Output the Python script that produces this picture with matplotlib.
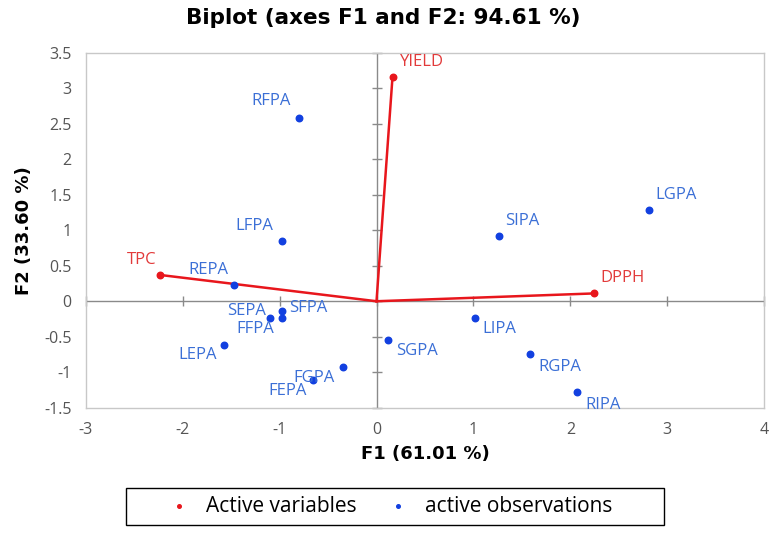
import matplotlib.pyplot as plt
from matplotlib.patches import Rectangle

plt.rcParams['font.family'] = ['Open Sans', 'DejaVu Sans']

# variables (F1, F2)
var_names = ['YIELD', 'TPC', 'DPPH']
var_f1 = [0.165, -2.23, 2.24]
var_f2 = [3.16, 0.37, 0.11]

# observations (F1, F2)
obs_names = ['RFPA', 'LFPA', 'REPA', 'LGPA', 'SIPA', 'LIPA', 'SGPA', 'RGPA',
             'RIPA', 'FGPA', 'FEPA', 'LEPA', 'SEPA', 'FFPA', 'SFPA']
obs_f1 = [-0.80, -0.98, -1.47, 2.81, 1.26, 1.02, 0.12, 1.58,
          2.07, -0.35, -0.66, -1.57, -1.10, -0.97, -0.97]
obs_f2 = [2.58, 0.85, 0.23, 1.28, 0.92, -0.23, -0.54, -0.75,
          -1.28, -0.92, -1.11, -0.62, -0.23, -0.23, -0.14]

xticks = [-3, -2, -1, 0, 1, 2, 3, 4]
yticks = [-1.5, -1, -0.5, 0, 0.5, 1, 1.5, 2, 2.5, 3, 3.5]

# label placement: (dx, dy) in points, horizontal alignment
var_pos = {'YIELD': (5, 11, 'left'), 'TPC': (-3, 11, 'right'), 'DPPH': (5, 11, 'left')}
obs_pos = {
    'RFPA': (-6, 12, 'right'), 'LFPA': (-6, 11, 'right'), 'REPA': (-4, 11, 'right'),
    'LGPA': (5, 11, 'left'), 'SIPA': (5, 11, 'left'), 'LIPA': (5, -8, 'left'),
    'SGPA': (6, -8, 'left'), 'RGPA': (6, -9, 'left'), 'RIPA': (6, -9, 'left'),
    'FGPA': (-6, -8, 'right'), 'FEPA': (-4, -8, 'right'), 'LEPA': (-5, -7, 'right'),
    'SEPA': (-3, 5, 'right'), 'FFPA': (-6, -8, 'right'), 'SFPA': (5, 2, 'left'),
}

red = '#e8161c'
blue = '#1240e0'
lblue = '#3b6fd6'
lred = '#e23a3a'
tick_col = '#555555'

fig = plt.figure(figsize=(7.72, 5.33), dpi=100)
ax = fig.add_axes([0.111, 0.235, 0.879, 0.666])

ax.set_xlim(-3, 4)
ax.set_ylim(-1.5, 3.5)
ax.set_xticks(xticks)
ax.set_yticks(yticks)
ax.set_xticklabels([str(v) for v in xticks])
ax.set_yticklabels([('%g' % v) for v in yticks])
ax.tick_params(length=0, labelsize=11.5, colors=tick_col)
ax.tick_params(axis='y', pad=10)
ax.tick_params(axis='x', pad=10)
for s in ax.spines.values():
    s.set_color('#c8c8c8')
    s.set_linewidth(1)

# zero axes with crossing ticks
ax.axhline(0, color='#8a8a8a', lw=1, zorder=1)
ax.axvline(0, color='#8a8a8a', lw=1, zorder=1)
ax.plot(xticks, [0] * len(xticks), ls='none', marker='|', ms=7, mew=1,
        color='#8a8a8a', zorder=1, clip_on=False)
ax.plot([0] * len(yticks), yticks, ls='none', marker='_', ms=7, mew=1,
        color='#8a8a8a', zorder=1, clip_on=False)

# variable vectors
for x, y in zip(var_f1, var_f2):
    ax.plot([0, x], [0, y], color=red, lw=1.8, zorder=2)
ax.scatter(var_f1, var_f2, s=22, color=red, zorder=3, label='Active variables')
for n, x, y in zip(var_names, var_f1, var_f2):
    dx, dy, ha = var_pos[n]
    ax.annotate(n, (x, y), xytext=(dx, dy), textcoords='offset points',
                ha=ha, va='center', color=lred, fontsize=12)

ax.scatter(obs_f1, obs_f2, s=22, color=blue, zorder=3, label='active observations')
for n, x, y in zip(obs_names, obs_f1, obs_f2):
    dx, dy, ha = obs_pos[n]
    ax.annotate(n, (x, y), xytext=(dx, dy), textcoords='offset points',
                ha=ha, va='center', color=lblue, fontsize=12)

ax.set_xlabel('F1 (61.01 %)', fontsize=13, fontweight='bold', labelpad=5,
              family='DejaVu Sans')
ax.set_ylabel('F2 (33.60 %)', fontsize=13, fontweight='bold', labelpad=8,
              family='DejaVu Sans')
fig.suptitle('Biplot (axes F1 and F2: 94.61 %)', x=0.496, y=0.985,
             fontsize=15.5, fontweight='bold', family='DejaVu Sans')

# legend box
fig.patches.append(Rectangle((126 / 772, 1 - 525 / 533), 538 / 772, 37 / 533,
                             transform=fig.transFigure, fill=False,
                             edgecolor='black', lw=1))
fig.legend(loc='center', bbox_to_anchor=(0.506, 0.05), ncol=2,
           frameon=False, fontsize=15, markerscale=0.55, handletextpad=0.8,
           columnspacing=1.5, handlelength=1.0)

fig.savefig('out.png', dpi=100)
